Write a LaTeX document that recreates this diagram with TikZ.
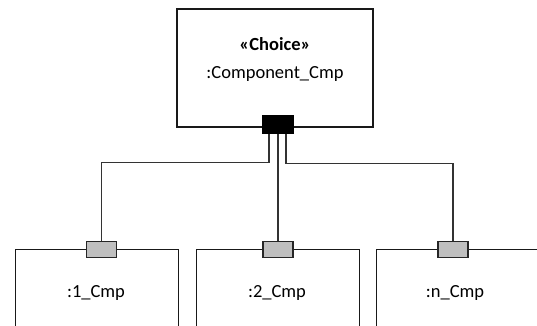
\documentclass[tikz,border=0pt]{standalone}
\usepackage{fontspec}
\setmainfont{Carlito}
\begin{document}
\begin{tikzpicture}[x=1pt,y=-1pt,
  comp/.style={draw=black!90,line width=1.3pt,fill=white,inner sep=0pt},
  blackport/.style={draw=black,line width=1.5pt,fill=black,minimum width=31pt,minimum height=18pt,inner sep=0pt},
  grayport/.style={draw=black!85,line width=1.8pt,fill=black!25,minimum width=30pt,minimum height=16pt,inner sep=0pt},
  wire/.style={draw=black!80,line width=1.3pt},
  lbl/.style={inner sep=0pt,font=\fontsize{18.5}{22}\selectfont}]
\useasboundingbox (0,0) rectangle (537,325);
\begin{scope}
\clip (0,0) rectangle (537,325);
% top component
\node[comp,minimum width=196pt,minimum height=118pt] (top) at (275,68) {};
\node[lbl,font=\fontsize{18.5}{22}\selectfont\bfseries] (stereo) at (275,44) {«Choice»};
\node[lbl] (tname) at (275,74) {:Component\_Cmp};
% bottom components (cut by the frame)
\node[comp,minimum width=163pt,minimum height=120pt,anchor=north west] (b1) at (15,249) {};
\node[comp,minimum width=163pt,minimum height=120pt,anchor=north west] (b2) at (196,249) {};
\node[comp,minimum width=163pt,minimum height=120pt,anchor=north west] (bn) at (376,249) {};
\node[lbl] (l1) at (96,293) {:1\_Cmp};
\node[lbl] (l2) at (277,293) {:2\_Cmp};
\node[lbl] (ln) at (455,293) {:n\_Cmp};
% ports
\node[blackport] (cp) at (278,124.5) {};
\node[grayport] (p1) at (101.5,249.5) {};
\node[grayport] (p2) at (278,249.5) {};
\node[grayport] (pn) at (453,249.5) {};
% wires
\draw[wire] ([xshift=-9pt]cp.south) -- ++(0,28) -| (p1.north);
\draw[wire] (cp.south) -- (p2.north);
\draw[wire] ([xshift=8pt]cp.south) -- ++(0,29) -| (pn.north);
\end{scope}
\end{tikzpicture}
\end{document}
